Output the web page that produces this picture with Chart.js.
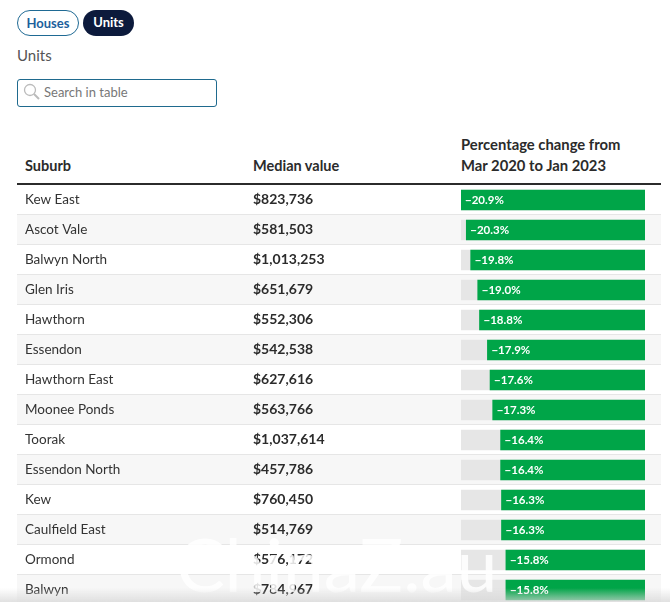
<!DOCTYPE html>
<html>
<head>
<meta charset="utf-8">
<script src="https://cdn.jsdelivr.net/npm/chart.js@4"></script>
<style>
  html, body { margin: 0; padding: 0; background: #fff; overflow: hidden; }
  body { width: 670px; height: 602px; position: relative; font-family: Lato, sans-serif; color: #2b2b2b; }
  .abs { position: absolute; white-space: nowrap; }
  .pill { top: 10px; height: 26px; line-height: 25px; border-radius: 13px; box-sizing: border-box; font-size: 13px; font-weight: 700; text-align: center; }
  #houses { left: 17px; width: 62px; border: 1px solid #1f6a94; color: #1d5f9c; }
  #units { left: 83px; width: 51px; background: #0c1a3c; color: #fff; }
  #title { left: 17px; top: 46px; font-size: 15px; color: #555; }
  #search { left: 17px; top: 79px; width: 200px; height: 28px; box-sizing: border-box; border: 1px solid #1f6a8e; border-radius: 3px; }
  #search span { position: absolute; left: 26px; top: 4px; font-size: 13px; color: #777; }
  #search svg { position: absolute; left: 4px; top: 2px; }
  .head { font-size: 14.5px; font-weight: 700; color: #2b2b2b; line-height: 21px; }
  #chart { position: absolute; left: 0; top: 0; }
  #fade { left: 0; top: 588px; width: 670px; height: 14px; background: linear-gradient(rgba(225,225,225,0), rgba(215,215,215,.75)); }
  #mark { left: 176px; top: 520px; font-size: 73px; font-weight: 400; color: rgba(255,255,255,.85); }
</style>
</head>
<body>
<div class="abs pill" id="houses">Houses</div>
<div class="abs pill" id="units">Units</div>
<div class="abs" id="title">Units</div>
<div class="abs" id="search">
  <svg width="20" height="20" viewBox="0 0 20 20"><circle cx="8" cy="8" r="5.5" fill="none" stroke="#bbb" stroke-width="1.3"/><line x1="12" y1="12" x2="17" y2="17" stroke="#bbb" stroke-width="2"/></svg>
  <span>Search in table</span>
</div>
<div class="abs head" style="left:25px;top:155px">Suburb</div>
<div class="abs head" style="left:253px;top:155px">Median value</div>
<div class="abs head" style="left:461px;top:134px;font-size:14.8px">Percentage change from<br>Mar 2020 to Jan 2023</div>
<canvas id="chart" width="670" height="610"></canvas>
<div class="abs" id="mark">ChinaZ.au</div>
<div class="abs" id="fade"></div>

<script>
// datos de la tabla
var suburbs = ['Kew East', 'Ascot Vale', 'Balwyn North', 'Glen Iris', 'Hawthorn', 'Essendon', 'Hawthorn East',
    'Moonee Ponds', 'Toorak', 'Essendon North', 'Kew', 'Caulfield East', 'Ormond', 'Balwyn'];
var medians = ['$823,736', '$581,503', '$1,013,253', '$651,679', '$552,306', '$542,538', '$627,616',
    '$563,766', '$1,037,614', '$457,786', '$760,450', '$514,769', '$576,172', '$784,967'];
var changes = [20.9, 20.3, 19.8, 19.0, 18.8, 17.9, 17.6, 17.3, 16.4, 16.4, 16.3, 16.3, 15.8, 15.8];
var fullScale = 20.9;

var tableLeft = 17, tableRight = 661, medianX = 253, headerLine = 184, rowHeight = 30;

// filas alternas, lineas y textos que no son barras
var tablePlugin = {
    id: 'tablePlugin',
    beforeDatasetsDraw: function (chart) {
        var c = chart.ctx, y = chart.scales.y;
        c.save();
        suburbs.forEach(function (s, i) {
            var mid = y.getPixelForValue(i);
            if (i % 2 == 1) {
                c.fillStyle = '#f7f7f7';
                c.fillRect(tableLeft, mid - rowHeight / 2, tableRight - tableLeft, rowHeight);
            }
            c.fillStyle = '#e6e6e6';
            c.fillRect(tableLeft, mid + rowHeight / 2 - 1, tableRight - tableLeft, 1);
        });
        c.fillStyle = '#2b2b2b';
        c.fillRect(tableLeft, headerLine - 1, tableRight - tableLeft, 2);
        c.restore();
    },
    afterDatasetsDraw: function (chart) {
        var c = chart.ctx, y = chart.scales.y, x = chart.scales.x;
        c.save();
        c.textBaseline = 'middle';
        c.textAlign = 'left';
        suburbs.forEach(function (s, i) {
            var mid = y.getPixelForValue(i);
            c.font = '13.5px Lato';
            c.fillStyle = '#333';
            c.fillText(s, 25, mid);
            c.font = '700 14px Lato';
            c.fillStyle = '#2b2b2b';
            c.fillText(medians[i], medianX, mid - 1);
            c.font = '700 11.5px Lato';
            c.fillStyle = '#fff';
            c.fillText('\u2212' + changes[i].toFixed(1) + '%', x.getPixelForValue(changes[i]) + 4, mid + 0.5);
        });
        c.restore();
    }
};

new Chart(document.getElementById('chart').getContext('2d'), {
    type: 'bar',
    data: {
        labels: suburbs,
        datasets: [
            { data: changes, backgroundColor: '#00a548', barThickness: 20, order: 1, grouped: false },
            { data: suburbs.map(function () { return fullScale; }), backgroundColor: '#e6e6e6', barThickness: 20, order: 2, grouped: false }
        ]
    },
    options: {
        indexAxis: 'y',
        responsive: false,
        animation: false,
        layout: { padding: { left: 461, right: 25, top: 185, bottom: 5 } },
        plugins: { legend: { display: false }, tooltip: { enabled: false } },
        scales: {
            x: { reverse: true, min: 0, max: fullScale, display: false },
            y: { display: false }
        }
    },
    plugins: [tablePlugin]
});
</script>
</body>
</html>
